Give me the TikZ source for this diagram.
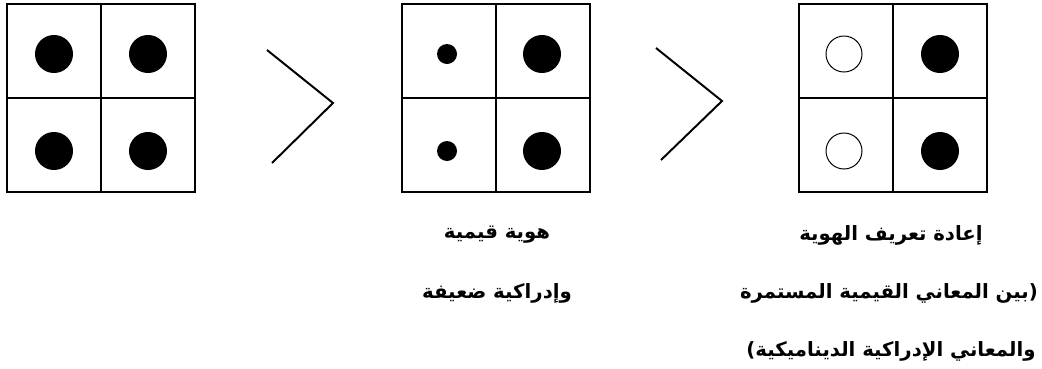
\documentclass[tikz,border=0pt]{standalone}
\usepackage{fontspec}
\newfontfamily\arabicfont[Script=Arabic]{DejaVu Sans}
\TeXXeTstate=1
\usepackage{tikz}
\usetikzlibrary{positioning,calc}

\begin{document}
\begin{tikzpicture}[
    x=0.025cm, y=-0.025cm,
    grid/.style={rectangle, draw=black, line width=0.9pt, minimum width=4.7cm, minimum height=4.7cm, inner sep=0pt},
    bigdot/.style={circle, fill=black, inner sep=0pt, minimum size=0.95cm},
    smalldot/.style={circle, fill=black, inner sep=0pt, minimum size=0.5cm},
    opendot/.style={circle, draw=black, line width=0.7pt, fill=white, inner sep=0pt, minimum size=0.9cm},
    chevron/.style={line width=1.4pt, line join=miter},
    label/.style={font=\arabicfont\bfseries\fontsize{14}{16}\selectfont, inner sep=0pt}
]
    \useasboundingbox (0,0) rectangle (1042,369);
    % the three grids
    \node[grid] (g1) at (101,98) {};
    \node[grid] (g2) at (496,98) {};
    \node[grid] (g3) at (893,98) {};
    \foreach \g in {g1,g2,g3}{
        \draw[line width=0.9pt] (\g.north) -- (\g.south);
        \draw[line width=0.9pt] (\g.west) -- (\g.east);
    }
    % grid 1
    \node[bigdot] (a1) at (54,54) {};
    \node[bigdot] (a2) at (148,54) {};
    \node[bigdot] (a3) at (54,151) {};
    \node[bigdot] (a4) at (148,151) {};
    % grid 2
    \node[smalldot] (b1) at (447,54) {};
    \node[bigdot] (b2) at (542,54) {};
    \node[smalldot] (b3) at (447,151) {};
    \node[bigdot] (b4) at (542,151) {};
    % grid 3
    \node[opendot] (c1) at (844,54) {};
    \node[bigdot] (c2) at (940,54) {};
    \node[opendot] (c3) at (844,151) {};
    \node[bigdot] (c4) at (940,151) {};
    % chevrons
    \coordinate (p1) at (267,50);
    \coordinate (p2) at (333,103);
    \coordinate (p3) at (272,163);
    \draw[chevron] (p1) -- (p2) -- (p3);
    \coordinate (q1) at (656,48);
    \coordinate (q2) at (722,101);
    \coordinate (q3) at (661,160);
    \draw[chevron] (q1) -- (q2) -- (q3);
    % labels
    \node[label] (t21) at (497,235) {\beginR هوية قيمية\endR};
    \node[label] (t22) at (497,293) {\beginR وإدراكية ضعيفة\endR};
    \node[label] (t31) at (891,235) {\beginR إعادة تعريف الهوية\endR};
    \node[label] (t32) at (889,293) {\beginR (بين المعاني القيمية المستمرة\endR};
    \node[label] (t33) at (891,351) {\beginR والمعاني الإدراكية الديناميكية)\endR};
\end{tikzpicture}
\end{document}
